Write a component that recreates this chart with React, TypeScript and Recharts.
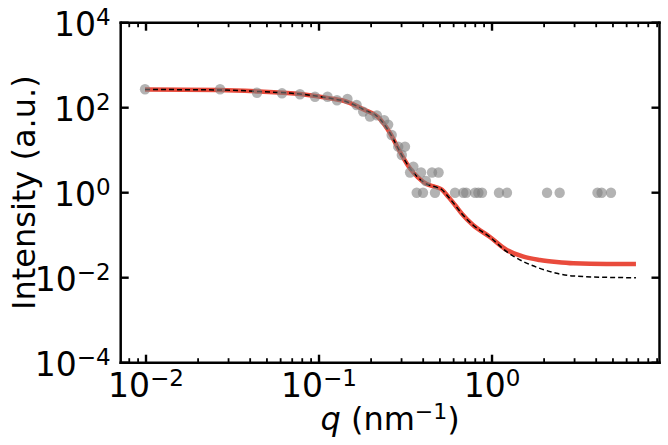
import React from "react";
import { ComposedChart, Line, Scatter, XAxis, YAxis } from "recharts";

// measured points (gray)
const qMeasured = [
  0.00987, 0.0268, 0.0438, 0.0611, 0.0776, 0.0948, 0.112, 0.127, 0.146, 0.165,
  0.18, 0.197, 0.216, 0.238, 0.251, 0.263, 0.287, 0.314, 0.301, 0.351,
  0.336, 0.389, 0.45, 0.491, 0.415,
  0.367, 0.399, 0.468, 0.611, 0.682, 0.709, 0.798, 0.834, 0.875, 1.097,
  1.22, 2.08, 2.46, 4.07, 4.3, 4.87,
];
const intensityMeasured = [
  271, 271, 225, 218, 207, 181, 181, 150, 160, 116,
  81, 62, 66, 51, 40, 22.8, 12.1, 12.1, 7.7, 4.1,
  2.99, 2.99, 2.99, 2.99, 1.88,
  1, 1, 1, 1, 1, 1, 1, 1, 1, 1,
  1, 1, 1, 1, 1, 1,
];

// fitted curves
const qModel = [
  0.00987, 0.0268, 0.0456, 0.0776, 0.116, 0.1445, 0.18, 0.225, 0.257, 0.294,
  0.336, 0.373, 0.419, 0.468, 0.512, 0.557, 0.611, 0.671, 0.776, 0.973,
  1.216, 1.52, 1.89, 2.36, 2.95, 4.6, 6.79,
];
const intensityFit = [
  268, 261, 240, 210, 166, 138, 91.6, 54.2, 25.4, 9.08,
  3.71, 2.3, 1.6, 1.38, 1.19, 0.815, 0.514, 0.316, 0.174, 0.091,
  0.0449, 0.0312, 0.0261, 0.0234, 0.0218, 0.021, 0.021,
];
const intensityModel = [
  268, 261, 240, 210, 166, 138, 91.6, 54.2, 25.4, 9.08,
  3.71, 2.3, 1.6, 1.38, 1.19, 0.815, 0.514, 0.316, 0.174, 0.09,
  0.0409, 0.0238, 0.0166, 0.0127, 0.011, 0.0102, 0.01,
];

const xDomain = [0.00714, 9.29];
const yDomain = [1e-4, 1e4];
const yTicks = [1e-4, 1e-2, 1, 1e2, 1e4];
const xTicks: number[] = [];
[0.001, 0.01, 0.1, 1].forEach((d) => {
  for (let m = 1; m < 10; m++) {
    const v = m * d;
    if (v >= xDomain[0] && v <= xDomain[1]) xTicks.push(v);
  }
});

const points = qMeasured.map((q, i) => ({ q, I: intensityMeasured[i] }));
const fitData = qModel.map((q, i) => ({ q, I: intensityFit[i] }));
const modelData = qModel.map((q, i) => ({ q, I: intensityModel[i] }));

const FONT = "DejaVu Sans";
const isMajor = (v: number) => Math.abs(Math.log10(v) - Math.round(Math.log10(v))) < 1e-6;
const expOf = (v: number) => {
  const e = Math.round(Math.log10(v));
  return e < 0 ? "\u2212" + Math.abs(e) : String(e);
};

const PowerLabel = ({ x, y, v, anchor }: any) => (
  <text x={x} y={y} textAnchor={anchor} fontFamily={FONT} fontSize={33} fill="#000">
    <tspan>10</tspan>
    <tspan dy={-11} fontSize={23}>{expOf(v)}</tspan>
  </text>
);

const BottomTick = ({ x, y, payload }: any) => {
  const v = payload.value;
  const major = isMajor(v);
  return (
    <g>
      <line x1={x} x2={x} y1={y} y2={y - (major ? 8 : 4.5)} stroke="#000" strokeWidth={major ? 2.4 : 1.8} />
      {major && <PowerLabel x={x} y={y + 34} v={v} anchor="middle" />}
    </g>
  );
};

const TopTick = ({ x, y, payload }: any) => {
  const major = isMajor(payload.value);
  return <line x1={x} x2={x} y1={y} y2={y + (major ? 8 : 4.5)} stroke="#000" strokeWidth={major ? 2.4 : 1.8} />;
};

const LeftTick = ({ x, y, payload }: any) => (
  <g>
    <line x1={x} x2={x + 8} y1={y} y2={y} stroke="#000" strokeWidth={2.4} />
    <PowerLabel x={x - 10} y={y + 13} v={payload.value} anchor="end" />
  </g>
);

const RightTick = ({ x, y }: any) => (
  <line x1={x} x2={x - 8} y1={y} y2={y} stroke="#000" strokeWidth={2.4} />
);

const xTitle = (props: any) => {
  const vb = props.viewBox;
  return (
    <text x={vb.x + vb.width / 2} y={vb.y + 67} textAnchor="middle" fontFamily={FONT} fontSize={32} fill="#000">
      <tspan fontStyle="italic">q</tspan>
      <tspan> (nm</tspan>
      <tspan dy={-11} fontSize={22}>{"\u22121"}</tspan>
      <tspan dy={11}>)</tspan>
    </text>
  );
};

const yTitle = (props: any) => {
  const vb = props.viewBox;
  const cy = vb.y + vb.height / 2;
  return (
    <text x={35} y={cy} transform={`rotate(-90, 35, ${cy})`} textAnchor="middle" fontFamily={FONT} fontSize={32} fill="#000">
      Intensity (a.u.)
    </text>
  );
};

const axisStroke = { stroke: "#000", strokeWidth: 2.5, strokeLinecap: "square" as const };

export default function App() {
  return (
    <div style={{ position: "absolute", left: 0, top: 0, width: 668, height: 445, background: "#fff" }}>
      <ComposedChart width={668} height={445} margin={{ top: 21.7, right: 7.5, bottom: 0, left: 0 }}>
        <XAxis
          xAxisId={0}
          dataKey="q"
          type="number"
          scale="log"
          domain={xDomain}
          allowDataOverflow
          ticks={xTicks}
          interval={0}
          tickSize={0}
          tickMargin={0}
          tickLine={false}
          axisLine={axisStroke}
          tick={<BottomTick />}
          height={82.3}
          label={xTitle}
        />
        <XAxis
          xAxisId="top"
          dataKey="q"
          orientation="top"
          type="number"
          scale="log"
          domain={xDomain}
          allowDataOverflow
          ticks={xTicks}
          interval={0}
          tickSize={0}
          tickMargin={0}
          tickLine={false}
          axisLine={axisStroke}
          tick={<TopTick />}
          height={1}
        />
        <YAxis
          yAxisId={0}
          dataKey="I"
          type="number"
          scale="log"
          domain={yDomain}
          allowDataOverflow
          ticks={yTicks}
          interval={0}
          tickSize={0}
          tickMargin={0}
          tickLine={false}
          axisLine={axisStroke}
          tick={<LeftTick />}
          width={120.7}
          label={yTitle}
        />
        <YAxis
          yAxisId="right"
          dataKey="I"
          orientation="right"
          type="number"
          scale="log"
          domain={yDomain}
          allowDataOverflow
          ticks={yTicks}
          interval={0}
          tickSize={0}
          tickMargin={0}
          tickLine={false}
          axisLine={axisStroke}
          tick={<RightTick />}
          width={1}
        />
        <Line
          data={fitData}
          dataKey="I"
          type="monotone"
          stroke="#e94b3c"
          strokeWidth={4.5}
          dot={false}
          activeDot={false}
          isAnimationActive={false}
        />
        <Line
          data={modelData}
          dataKey="I"
          type="monotone"
          stroke="#000"
          strokeWidth={1.5}
          strokeDasharray="5 3"
          dot={false}
          activeDot={false}
          isAnimationActive={false}
        />
        <Scatter
          data={points}
          dataKey="I"
          isAnimationActive={false}
          shape={(p: any) => <circle cx={p.cx} cy={p.cy} r={5.2} fill="#808080" fillOpacity={0.6} />}
        />
        <Scatter
          xAxisId="top"
          yAxisId="right"
          data={points}
          dataKey="I"
          isAnimationActive={false}
          shape={() => <g />}
        />
      </ComposedChart>
    </div>
  );
}
